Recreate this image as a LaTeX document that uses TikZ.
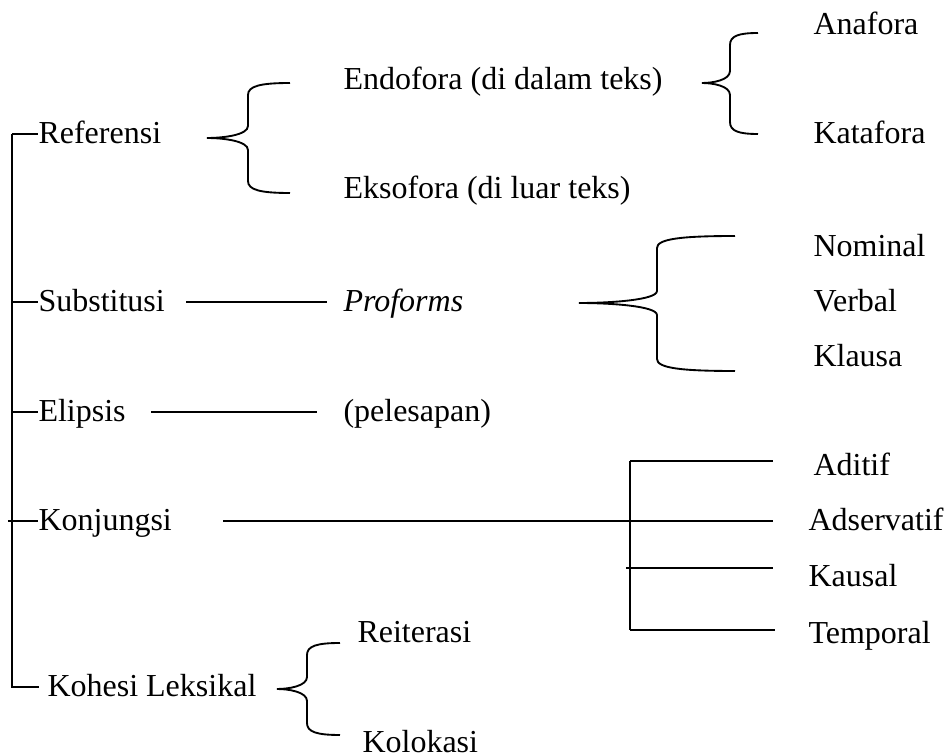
\documentclass[tikz,border=0pt]{standalone}
\usepackage{fontspec}
\setmainfont{Liberation Serif}

\tikzset{lbl/.style={anchor=west,inner sep=0pt,text height=9pt,text depth=1.5pt,
        font=\fontsize{12}{14}\selectfont},
    garis/.style={line width=0.7pt}}

% curly brace: stem x, mid y, spine x, end x, top y, bottom y
\newcommand{\kurawal}[6]{%
    \draw[garis] (#4,#5) .. controls ({#3+0.3*(#4-#3)},#5) and (#3,{#5+3}) .. (#3,{#5+12})
        -- (#3,{#2-12}) .. controls (#3,{#2-3}) and ({#3-0.6*(#3-#1)},#2) .. (#1,#2)
        .. controls ({#3-0.6*(#3-#1)},#2) and (#3,{#2+3}) .. (#3,{#2+12})
        -- (#3,{#6-12}) .. controls (#3,{#6-3}) and ({#3+0.3*(#4-#3)},#6) .. (#4,#6);}

\begin{document}
\begin{tikzpicture}[x=0.375pt,y=-0.375pt]
    \useasboundingbox (0,0) rectangle (949,756);
    % main branch
    \node[lbl] (ref) at (38,134) {Referensi};
    \node[lbl] (sub) at (38,302) {Substitusi};
    \node[lbl] (eli) at (38,412) {Elipsis};
    \node[lbl] (kon) at (38,521) {Konjungsi};
    \node[lbl] (koh) at (47,687) {Kohesi Leksikal};
    \coordinate (akar) at (12,134);
    \draw[garis] (akar) |- ([xshift=-3pt]koh.west);
    \draw[garis] (akar) -- (ref.west);
    \foreach \n in {sub,eli}
        \draw[garis] (akar |- \n.west) -- (\n.west);
    \draw[garis] ([xshift=-1.5pt]akar |- kon.west) -- (kon.west);
    % referensi
    \node[lbl] (endo) at (343,80) {Endofora (di dalam teks)};
    \node[lbl] (ekso) at (343,189) {Eksofora (di luar teks)};
    \node[lbl] (ana) at (813,25) {Anafora};
    \node[lbl] (kata) at (813,134) {Katafora};
    \kurawal{207}{138}{248}{290}{83}{193}
    \kurawal{702}{83}{730}{758}{33}{134}
    % substitusi
    \node[lbl,font=\fontsize{12}{14}\selectfont\itshape] (pro) at (343,302) {Proforms};
    \draw[garis] ([xshift=7.9pt]sub.east) -- ([xshift=-6pt]pro.west);
    \node[lbl] (nom) at (813,247) {Nominal};
    \node[lbl] (verb) at (813,302) {Verbal};
    \node[lbl] (klau) at (813,357) {Klausa};
    \kurawal{579}{303}{657}{735}{236}{371}
    % elipsis
    \node[lbl] (pel) at (343,412) {(pelesapan)};
    \draw[garis] ([xshift=9.4pt]eli.east) -- ([xshift=-9.75pt]pel.west);
    % konjungsi
    \node[lbl] (adit) at (813,466) {Aditif};
    \node[lbl] (adse) at (808,521) {Adservatif};
    \node[lbl] (kaus) at (808,577) {Kausal};
    \node[lbl] (temp) at (808,634) {Temporal};
    \draw[garis] ([xshift=19.1pt]kon.east) -- ([xshift=-13.1pt]adse.west);
    \coordinate (cab) at (630,461);
    \draw[garis] (cab) -- (630,630);
    \foreach \y/\a/\b in {461/630/773,568/626/773,630/630/775}
        \draw[garis] (\a,\y) -- (\b,\y);
    % kohesi leksikal
    \node[lbl] (reit) at (357,633) {Reiterasi};
    \node[lbl] (kolo) at (362,743) {Kolokasi};
    \kurawal{277}{689}{307}{340}{643}{735}
\end{tikzpicture}
\end{document}
